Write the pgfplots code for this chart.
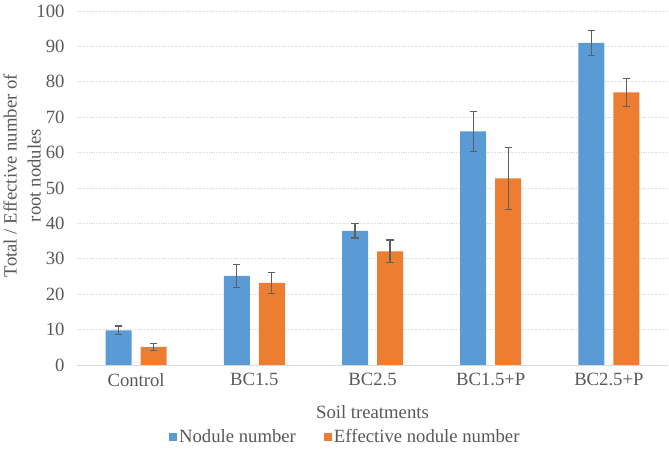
\documentclass[border=0pt]{standalone}
\usepackage{pgfplots}
\pgfplotsset{compat=1.18}
\usepackage{fontspec}
\setmainfont{Liberation Serif}
\definecolor{cblue}{HTML}{5B9BD5}
\definecolor{corange}{HTML}{ED7D31}
\definecolor{gridc}{HTML}{D9D9D9}
\definecolor{errc}{HTML}{5F5F5F}
\definecolor{txt}{HTML}{595959}
\begin{document}
\begin{tikzpicture}[font=\fontsize{18.7}{24}\selectfont]
\begin{axis}[
  name=ax,
  scale only axis,
  width=591pt, height=354pt,
  xmin=-0.5, xmax=4.5, ymin=0, ymax=100,
  ybar, bar width=26pt,
  xtick={0,1,2,3,4},
  xticklabels={Control,BC1.5,BC2.5,BC1.5+P,BC2.5+P},
  ytick={0,10,...,100},
  major tick length=0pt,
  axis x line*=bottom,
  axis y line*=left,
  y axis line style={draw=none},
  x axis line style={draw=gridc, line width=0.8pt},
  ymajorgrids,
  grid style={gridc, line width=0.8pt, dash pattern=on 1.2pt off 1.2pt},
  tick label style={text=txt},
  yticklabel style={xshift=-9pt},
  xticklabel style={yshift=-5pt},
  /pgf/number format/assume math mode=true,
  xlabel={Soil treatments},
  xlabel style={text=txt, yshift=-12pt},
  ylabel={Total / Effective number of\\root nodules},
  every axis y label/.style={at={(axis description cs:-0.093,0.535)}, rotate=90, anchor=center, align=center, text=txt},
  legend columns=2,
  legend style={draw=none, at={(0.454,-0.203)}, anchor=center, text=txt,
    /tikz/every even column/.append style={column sep=26pt}},
  legend image code/.code={\fill[#1] (1pt,-4pt) rectangle (9pt,4pt);},
  error bars/error bar style={errc, line width=1.2pt},
  error bars/error mark options={rotate=90, errc, mark size=3.6pt, line width=1.2pt},
]
\addplot[fill=cblue, draw=none, bar shift=-17.5pt,
  error bars/.cd, y dir=both, y explicit]
  coordinates {(0,9.8) +- (0,1.2) (1,25.2) +- (0,3.2) (2,37.9) +- (0,2.0) (3,66.0) +- (0,5.7) (4,91.0) +- (0,3.6)};
\addlegendentry{Nodule number}
\addplot[fill=corange, draw=none, bar shift=17.5pt,
  error bars/.cd, y dir=both, y explicit]
  coordinates {(0,5.1) +- (0,1.0) (1,23.2) +- (0,3.0) (2,32.1) +- (0,3.2) (3,52.7) +- (0,8.8) (4,77.0) +- (0,4.0)};
\addlegendentry{Effective nodule number}
\end{axis}
\path (ax.south west) ++(-77pt,-95pt) coordinate (bl);
\path (ax.north east) ++(1pt,11pt) coordinate (tr);
\path (bl) rectangle (tr);
\end{tikzpicture}
\end{document}
